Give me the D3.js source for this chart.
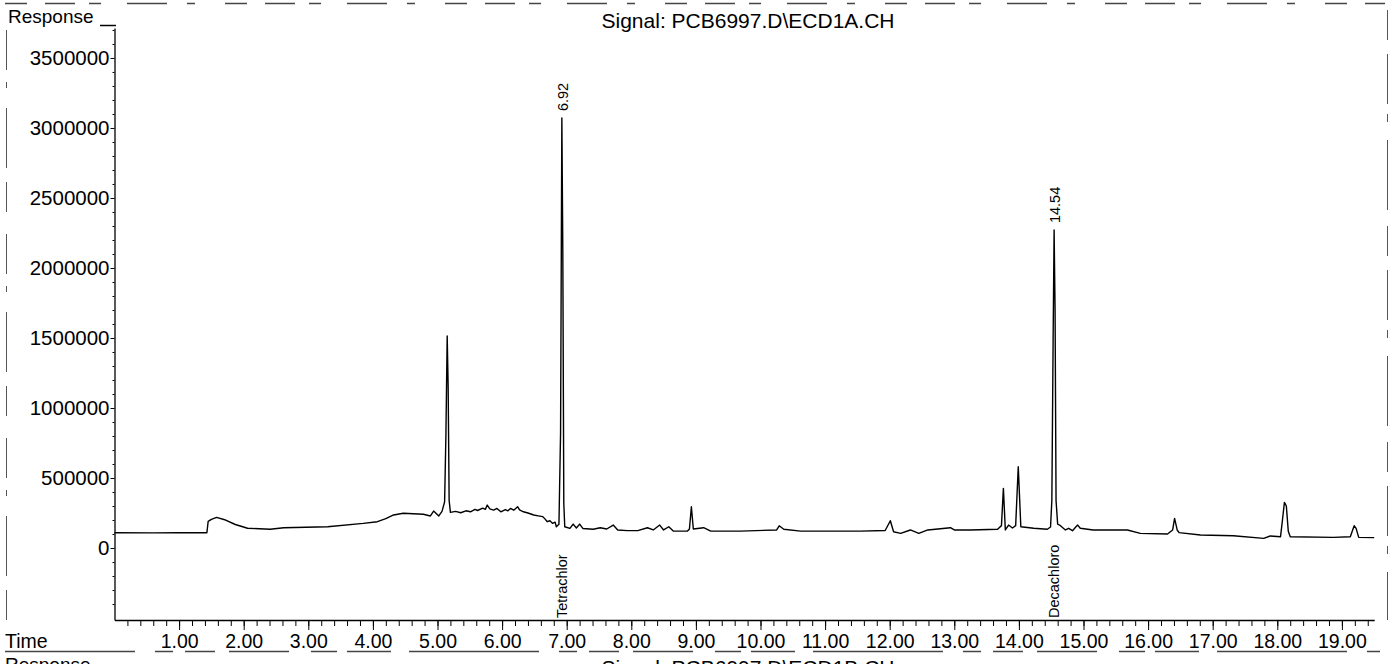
<!DOCTYPE html>
<html>
<head>
<meta charset="utf-8">
<script src="https://cdn.jsdelivr.net/npm/d3@7"></script>
<style>
  html, body { margin: 0; padding: 0; background: #fff; }
  svg { display: block; }
  text { font-family: "Liberation Sans", Arial, sans-serif; fill: #000; }
</style>
</head>
<body>
<svg id="chart" width="1391" height="664"></svg>
<script>
// ---- data ----
const times = [
  0.00, 0.60, 1.00, 1.43, 1.45, 1.50, 1.58, 1.72, 1.87, 2.06, 2.41, 2.62, 3.30, 3.85, 4.07, 4.20, 4.32, 4.47,
  4.78, 4.89, 4.94, 5.02, 5.07, 5.11, 5.13, 5.15, 5.165, 5.18, 5.20, 5.28, 5.36, 5.44, 5.51, 5.58, 5.62, 5.70,
  5.74, 5.77, 5.81, 5.87, 5.92, 5.98, 6.05, 6.09, 6.13, 6.18, 6.24, 6.27, 6.33, 6.40, 6.49, 6.56, 6.63, 6.66,
  6.70, 6.74, 6.78, 6.82, 6.84, 6.88, 6.905, 6.925, 6.94, 6.955, 6.97, 7.05, 7.10, 7.15,
  7.20, 7.25, 7.41, 7.52, 7.62, 7.72, 7.79, 7.94, 8.10, 8.25, 8.34, 8.44, 8.50, 8.58, 8.65, 8.87, 8.90, 8.93,
  8.96, 9.12, 9.23, 9.69, 10.25, 10.29, 10.36, 10.62, 11.08, 11.55, 11.93, 12.01, 12.06, 12.17, 12.32, 12.45,
  12.59, 12.94, 13.00, 13.25, 13.67, 13.73, 13.76, 13.79, 13.84, 13.90, 13.95, 13.99, 14.03, 14.23, 14.44,
  14.49, 14.51, 14.53, 14.545, 14.56, 14.575, 14.60, 14.63, 14.72, 14.77, 14.83, 14.88, 14.91, 14.95, 15.15,
  15.68, 15.88, 16.30, 16.38, 16.41, 16.45, 16.48, 16.81, 17.32, 17.79, 17.89, 18.05, 18.08, 18.11, 18.14,
  18.17, 18.20, 18.87, 19.13, 19.19, 19.22, 19.26, 19.50
];
const response = [
  109000, 108000, 109000, 109000, 190000, 205000, 219000, 200000, 168000, 141000, 134000, 145000, 152000, 176000, 188000, 210000, 236000, 248000,
  241000, 229000, 264000, 229000, 262000, 330000, 800000, 1514000, 1150000, 340000, 255000, 262000, 252000, 266000, 259000, 276000, 268000, 285000,
  276000, 307000, 280000, 271000, 283000, 259000, 275000, 266000, 283000, 270000, 295000, 272000, 259000, 250000, 236000, 230000, 224000, 210000,
  188000, 195000, 176000, 185000, 152000, 170000, 820000, 3071000, 2100000, 320000, 152000, 140000, 171000, 143000,
  171000, 140000, 134000, 145000, 136000, 164000, 129000, 124000, 124000, 145000, 129000, 164000, 129000, 152000, 121000, 121000, 136000, 295000,
  136000, 145000, 121000, 121000, 129000, 159000, 134000, 121000, 121000, 121000, 125000, 195000, 116000, 105000, 129000, 105000,
  129000, 145000, 129000, 129000, 134000, 160000, 426000, 129000, 164000, 143000, 160000, 581000, 152000, 141000, 134000,
  150000, 340000, 1500000, 2271000, 1700000, 340000, 170000, 164000, 129000, 141000, 124000, 150000, 164000, 141000, 129000,
  129000, 105000, 100000, 129000, 212000, 129000, 110000, 93000, 88000, 69000, 86000, 81000, 200000, 326000, 300000,
  120000, 81000, 76000, 81000, 159000, 140000, 76000, 74000
];
const yTickValues = [0, 500000, 1000000, 1500000, 2000000, 2500000, 3000000, 3500000];
const xTickValues = [1, 2, 3, 4, 5, 6, 7, 8, 9, 10, 11, 12, 13, 14, 15, 16, 17, 18, 19];
const peakTimes = [6.92, 14.54];
const peakHeights = [3071000, 2271000];
const peakLabels = ["6.92", "14.54"];
const compoundNames = ["Tetrachlor", "Decachloro"];
const titleText = "Signal: PCB6997.D\\ECD1A.CH";
const nextTitleText = "Signal: PCB6997.D\\ECD1B.CH";

// ---- scales ----
const svg = d3.select("#chart");
const x = d3.scaleLinear().domain([0, 19.5]).range([114.5, 114.5 + 19.5 * 64.6]);
const y = d3.scaleLinear().domain([-514000, 3714000]).range([620, 28]);
const axisY = 620;

// ---- scan artefacts: dashed borders ----
svg.append("line").attr("x1", 5).attr("x2", 1385).attr("y1", 3.5).attr("y2", 3.5)
  .attr("stroke", "#444").attr("stroke-width", 1.5).attr("stroke-dasharray", "22 18 30 14 12 26 40 20 8 30");
svg.append("line").attr("x1", 6.5).attr("x2", 6.5).attr("y1", 30).attr("y2", 620)
  .attr("stroke", "#555").attr("stroke-width", 1).attr("stroke-dasharray", "40 12 6 20 60 14 30 22");
svg.append("line").attr("x1", 1387.5).attr("x2", 1387.5).attr("y1", 10).attr("y2", 620)
  .attr("stroke", "#555").attr("stroke-width", 1).attr("stroke-dasharray", "30 14 50 10 8 18 70 16");
svg.append("line").attr("x1", 5).attr("x2", 1380).attr("y1", 651.5).attr("y2", 651.5)
  .attr("stroke", "#444").attr("stroke-width", 1.3).attr("stroke-dasharray", "130 20 18 12 30 14 60 22 26 10 44 18");

// ---- axes ----
const gy = svg.append("g").attr("transform", `translate(${x(0)},0)`)
  .call(d3.axisLeft(y).tickValues(yTickValues).tickFormat(d3.format("d")).tickSize(4).tickPadding(1).tickSizeOuter(0));
gy.select(".domain").attr("stroke", "#000").attr("stroke-width", 1.3);
gy.selectAll(".tick line").attr("stroke", "#000");
gy.selectAll(".tick text").attr("font-size", 20.5).attr("font-family", "Liberation Sans, Arial, sans-serif");

const gyMinor = svg.append("g").attr("transform", `translate(${x(0)},0)`)
  .call(d3.axisLeft(y).tickValues(d3.range(-500000, 3700001, 100000).filter(v => v % 500000 !== 0)).tickFormat("").tickSize(2).tickSizeOuter(0));
gyMinor.select(".domain").remove();
gyMinor.selectAll(".tick line").attr("stroke", "#000");

const gxMinor = svg.append("g").attr("transform", `translate(0,${axisY})`)
  .call(d3.axisBottom(x).tickValues(d3.range(0.2, 19.45, 0.2)).tickFormat("").tickSize(6).tickSizeOuter(0));
gxMinor.select(".domain").remove();
gxMinor.selectAll(".tick line").attr("stroke", "#000");

const gx = svg.append("g").attr("transform", `translate(0,${axisY})`)
  .call(d3.axisBottom(x).tickValues(xTickValues).tickFormat(d3.format(".2f")).tickSize(10).tickSizeOuter(0));
gx.select(".domain").attr("stroke", "#000").attr("stroke-width", 1.3);
gx.selectAll(".tick line").attr("stroke", "#000");
gx.selectAll(".tick text").attr("font-size", 19.5).attr("y", 28).attr("dy", 0)
  .attr("font-family", "Liberation Sans, Arial, sans-serif");

// ---- trace ----
const pts = times.map((t, i) => [t, response[i]]);
svg.append("path").datum(pts)
  .attr("fill", "none").attr("stroke", "#000").attr("stroke-width", 1.4).attr("stroke-linejoin", "round")
  .attr("d", d3.line().x(d => x(d[0])).y(d => y(d[1])));

// ---- peak annotations ----
peakTimes.forEach((t, i) => {
  const px = x(t) + 6.5, py = y(peakHeights[i]) - 7;
  svg.append("text").attr("transform", `translate(${px},${py}) rotate(-90)`)
    .attr("font-size", 14.5).attr("text-anchor", "start").text(peakLabels[i]);
  svg.append("text").attr("transform", `translate(${x(t) + 5.5},${axisY - 2}) rotate(-90)`)
    .attr("font-size", 14.5).attr("text-anchor", "start").text(compoundNames[i]);
});

// ---- texts ----
svg.append("text").attr("x", 8).attr("y", 23).attr("font-size", 19).text("Response");
svg.append("line").attr("x1", 100).attr("x2", 116).attr("y1", 25.5).attr("y2", 25.5).attr("stroke", "#000").attr("stroke-width", 1.5);
svg.append("text").attr("x", 748).attr("y", 28).attr("text-anchor", "middle").attr("font-size", 21).text(titleText);
svg.append("text").attr("x", 5).attr("y", 648).attr("font-size", 19.5).text("Time");
svg.append("text").attr("x", 5).attr("y", 671).attr("font-size", 19).text("Response");
svg.append("text").attr("x", 748).attr("y", 675).attr("text-anchor", "middle").attr("font-size", 21).text(nextTitleText);
</script>
</body>
</html>
